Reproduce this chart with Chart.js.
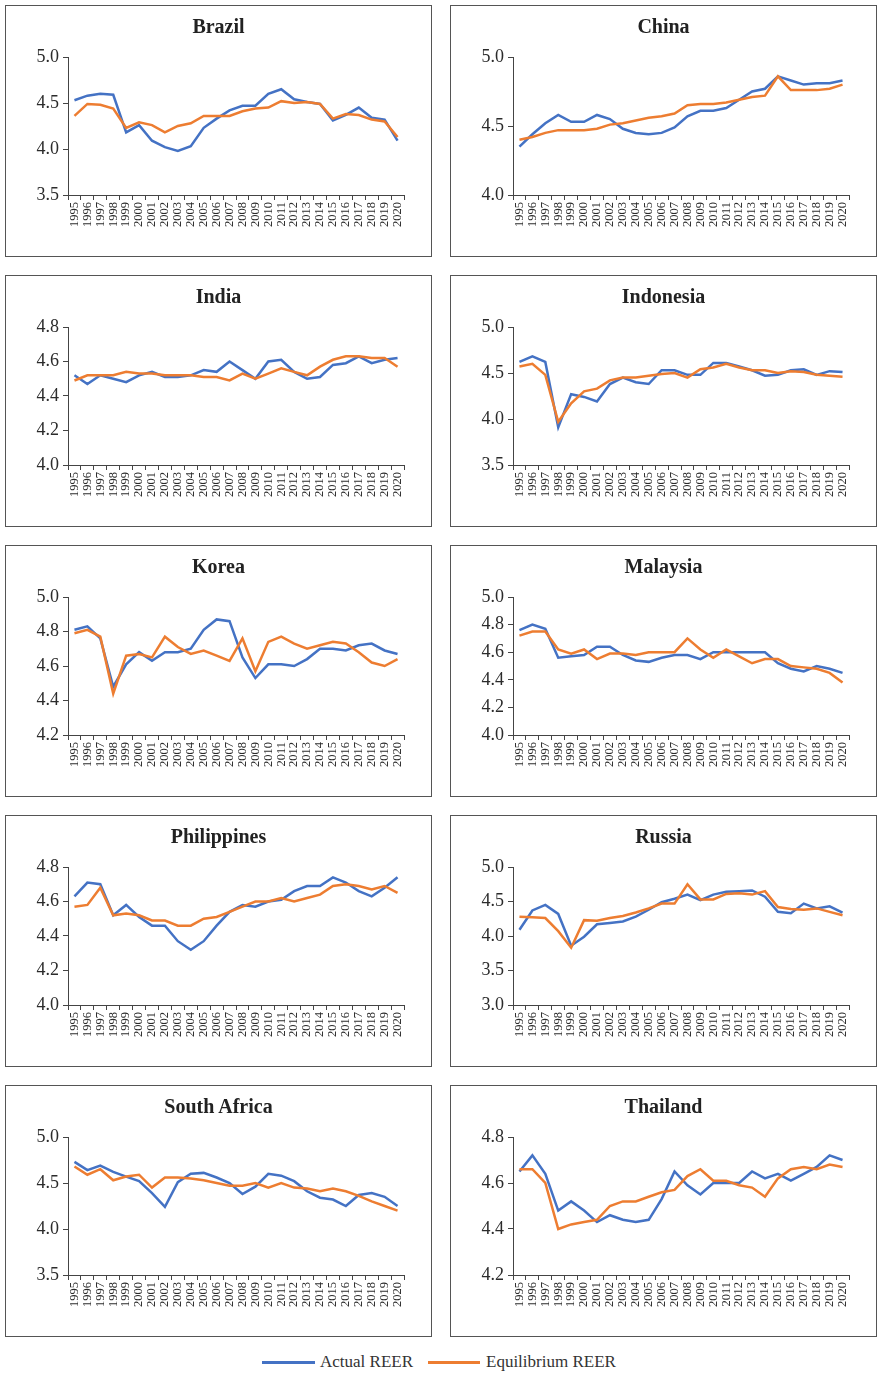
<!DOCTYPE html>
<html>
<head>
<meta charset="utf-8">
<script src="https://cdn.jsdelivr.net/npm/chart.js@4.4.1/dist/chart.umd.min.js"></script>
<style>
  body { margin: 0; background: #fff; width: 883px; height: 1389px; position: relative; font-family: "Liberation Serif", serif; }
  .panel { position: absolute; width: 425px; height: 250px; border: 1px solid #555; background: #fff; }
  .panel canvas { display: block; }
  .panel-title { position: absolute; left: 0; right: 0; top: 8px; text-align: center; font-size: 20px; font-weight: bold; color: #222; line-height: 24px; }
  .legend-line { position: absolute; height: 3px; }
  .legend-text { position: absolute; font-size: 17px; color: #333; line-height: 20px; }
</style>
</head>
<body>
<div id="charts"></div>
<div class="legend-line" style="left:262px; top:1361px; width:53px; background:#4472C4;"></div>
<div class="legend-text" style="left:320px; top:1352px;">Actual REER</div>
<div class="legend-line" style="left:428px; top:1361px; width:52px; background:#ED7D31;"></div>
<div class="legend-text" style="left:486px; top:1352px;">Equilibrium REER</div>

<script>
// Categories
const years = ["1995","1996","1997","1998","1999","2000","2001","2002","2003","2004","2005","2006","2007",
  "2008","2009","2010","2011","2012","2013","2014","2015","2016","2017","2018","2019","2020"];

// Series values (log REER)
const brazilActual = [4.53,4.58,4.60,4.59,4.18,4.26,4.09,4.02,3.98,4.03,4.23,4.33,4.42,4.47,4.47,4.60,4.65,4.54,4.51,4.49,4.31,4.37,4.45,4.34,4.32,4.09];
const brazilEquilibrium = [4.36,4.49,4.48,4.44,4.23,4.29,4.26,4.18,4.25,4.28,4.36,4.36,4.36,4.41,4.44,4.45,4.52,4.50,4.51,4.49,4.33,4.38,4.37,4.32,4.30,4.13];

const chinaActual = [4.35,4.44,4.52,4.58,4.53,4.53,4.58,4.55,4.48,4.45,4.44,4.45,4.49,4.57,4.61,4.61,4.63,4.69,4.75,4.77,4.86,4.83,4.80,4.81,4.81,4.83];
const chinaEquilibrium = [4.40,4.42,4.45,4.47,4.47,4.47,4.48,4.51,4.52,4.54,4.56,4.57,4.59,4.65,4.66,4.66,4.67,4.69,4.71,4.72,4.86,4.76,4.76,4.76,4.77,4.80];

const indiaActual = [4.52,4.47,4.52,4.50,4.48,4.52,4.54,4.51,4.51,4.52,4.55,4.54,4.60,4.55,4.50,4.60,4.61,4.54,4.50,4.51,4.58,4.59,4.63,4.59,4.61,4.62];
const indiaEquilibrium = [4.49,4.52,4.52,4.52,4.54,4.53,4.53,4.52,4.52,4.52,4.51,4.51,4.49,4.53,4.50,4.53,4.56,4.54,4.52,4.57,4.61,4.63,4.63,4.62,4.62,4.57];

const indonesiaActual = [4.62,4.68,4.62,3.91,4.27,4.24,4.19,4.38,4.45,4.40,4.38,4.53,4.53,4.48,4.48,4.61,4.61,4.57,4.53,4.47,4.48,4.53,4.54,4.48,4.52,4.51];
const indonesiaEquilibrium = [4.57,4.60,4.48,3.97,4.17,4.30,4.33,4.42,4.45,4.45,4.47,4.49,4.50,4.45,4.54,4.56,4.60,4.56,4.53,4.53,4.50,4.52,4.51,4.48,4.47,4.46];

const koreaActual = [4.81,4.83,4.76,4.48,4.61,4.68,4.63,4.68,4.68,4.70,4.81,4.87,4.86,4.65,4.53,4.61,4.61,4.60,4.64,4.70,4.70,4.69,4.72,4.73,4.69,4.67];
const koreaEquilibrium = [4.79,4.81,4.77,4.44,4.66,4.67,4.65,4.77,4.71,4.67,4.69,4.66,4.63,4.76,4.57,4.74,4.77,4.73,4.70,4.72,4.74,4.73,4.68,4.62,4.60,4.64];

const malaysiaActual = [4.76,4.80,4.77,4.56,4.57,4.58,4.64,4.64,4.58,4.54,4.53,4.56,4.58,4.58,4.55,4.60,4.60,4.60,4.60,4.60,4.52,4.48,4.46,4.50,4.48,4.45];
const malaysiaEquilibrium = [4.72,4.75,4.75,4.62,4.59,4.62,4.55,4.59,4.59,4.58,4.60,4.60,4.60,4.70,4.62,4.56,4.62,4.57,4.52,4.55,4.55,4.50,4.49,4.48,4.45,4.38];

const philippinesActual = [4.63,4.71,4.70,4.52,4.58,4.51,4.46,4.46,4.37,4.32,4.37,4.46,4.54,4.58,4.57,4.60,4.61,4.66,4.69,4.69,4.74,4.71,4.66,4.63,4.68,4.74];
const philippinesEquilibrium = [4.57,4.58,4.68,4.52,4.53,4.52,4.49,4.49,4.46,4.46,4.50,4.51,4.54,4.57,4.60,4.60,4.62,4.60,4.62,4.64,4.69,4.70,4.69,4.67,4.69,4.65];

const russiaActual = [4.09,4.37,4.45,4.32,3.86,3.99,4.17,4.19,4.21,4.28,4.38,4.49,4.54,4.60,4.52,4.60,4.64,4.65,4.66,4.57,4.35,4.33,4.47,4.40,4.43,4.34];
const russiaEquilibrium = [4.28,4.27,4.26,4.07,3.83,4.23,4.22,4.26,4.29,4.34,4.40,4.47,4.47,4.75,4.53,4.53,4.61,4.62,4.60,4.65,4.42,4.39,4.38,4.40,4.35,4.30];

const southAfricaActual = [4.73,4.64,4.69,4.62,4.57,4.52,4.39,4.24,4.51,4.60,4.61,4.56,4.50,4.38,4.46,4.60,4.58,4.52,4.41,4.34,4.32,4.25,4.37,4.39,4.35,4.25];
const southAfricaEquilibrium = [4.68,4.59,4.65,4.53,4.57,4.59,4.45,4.56,4.56,4.55,4.53,4.50,4.47,4.47,4.50,4.45,4.50,4.45,4.44,4.41,4.44,4.41,4.36,4.30,4.25,4.20];

const thailandActual = [4.65,4.72,4.64,4.48,4.52,4.48,4.43,4.46,4.44,4.43,4.44,4.53,4.65,4.59,4.55,4.60,4.60,4.60,4.65,4.62,4.64,4.61,4.64,4.67,4.72,4.70];
const thailandEquilibrium = [4.66,4.66,4.60,4.40,4.42,4.43,4.44,4.50,4.52,4.52,4.54,4.56,4.57,4.63,4.66,4.61,4.61,4.59,4.58,4.54,4.62,4.66,4.67,4.66,4.68,4.67];

// Panels in reading order (left, right per row)
const panels = [
  { title: "Brazil", actual: brazilActual, equilibrium: brazilEquilibrium, min: 3.5, max: 5.0, step: 0.5 },
  { title: "China", actual: chinaActual, equilibrium: chinaEquilibrium, min: 4.0, max: 5.0, step: 0.5 },
  { title: "India", actual: indiaActual, equilibrium: indiaEquilibrium, min: 4.0, max: 4.8, step: 0.2 },
  { title: "Indonesia", actual: indonesiaActual, equilibrium: indonesiaEquilibrium, min: 3.5, max: 5.0, step: 0.5 },
  { title: "Korea", actual: koreaActual, equilibrium: koreaEquilibrium, min: 4.2, max: 5.0, step: 0.2 },
  { title: "Malaysia", actual: malaysiaActual, equilibrium: malaysiaEquilibrium, min: 4.0, max: 5.0, step: 0.2 },
  { title: "Philippines", actual: philippinesActual, equilibrium: philippinesEquilibrium, min: 4.0, max: 4.8, step: 0.2 },
  { title: "Russia", actual: russiaActual, equilibrium: russiaEquilibrium, min: 3.0, max: 5.0, step: 0.5 },
  { title: "South Africa", actual: southAfricaActual, equilibrium: southAfricaEquilibrium, min: 3.5, max: 5.0, step: 0.5 },
  { title: "Thailand", actual: thailandActual, equilibrium: thailandEquilibrium, min: 4.2, max: 4.8, step: 0.2 },
];

const axisColor = "#444";
const textColor = "#2b2b2b";
const container = document.getElementById("charts");

panels.forEach((p, i) => {
  const box = document.createElement("div");
  box.className = "panel";
  box.style.left = (i % 2 === 0 ? 5 : 450) + "px";
  box.style.top = (5 + Math.floor(i / 2) * 270) + "px";
  const canvas = document.createElement("canvas");
  canvas.width = 425;
  canvas.height = 250;
  box.appendChild(canvas);
  // title as text centred over the whole panel
  const title = document.createElement("div");
  title.className = "panel-title";
  title.textContent = p.title;
  box.appendChild(title);
  container.appendChild(box);

  new Chart(canvas.getContext("2d"), {
    type: "line",
    data: {
      labels: years,
      datasets: [
        { label: "Actual REER", data: p.actual, borderColor: "#4472C4", borderWidth: 2.5, pointRadius: 0, tension: 0, order: 1 },
        { label: "Equilibrium REER", data: p.equilibrium, borderColor: "#ED7D31", borderWidth: 2.5, pointRadius: 0, tension: 0, order: 0 },
      ],
    },
    options: {
      responsive: false,
      animation: false,
      events: [],
      layout: { padding: { left: 0, right: 27, top: 51, bottom: 0 } },
      plugins: {
        legend: { display: false },
        tooltip: { enabled: false },
        title: { display: false },
      },
      scales: {
        x: {
          offset: true,
          grid: { offset: true, drawOnChartArea: false, drawTicks: true, tickLength: 5, color: axisColor },
          border: { color: axisColor, width: 1 },
          ticks: {
            autoSkip: false,
            maxRotation: 90,
            minRotation: 90,
            padding: 2,
            color: textColor,
            font: { family: "Liberation Serif", size: 12.5 },
          },
          afterFit: (scale) => { scale.height = 61; },
        },
        y: {
          min: p.min,
          max: p.max,
          grid: { drawOnChartArea: false, tickLength: 5, color: axisColor },
          border: { color: axisColor, width: 1 },
          ticks: {
            stepSize: p.step,
            padding: 4,
            color: textColor,
            font: { family: "Liberation Serif", size: 18 },
            callback: (v) => Number(v).toFixed(1),
          },
          afterFit: (scale) => { scale.width = 62; },
        },
      },
    },
  });
});
</script>
</body>
</html>
